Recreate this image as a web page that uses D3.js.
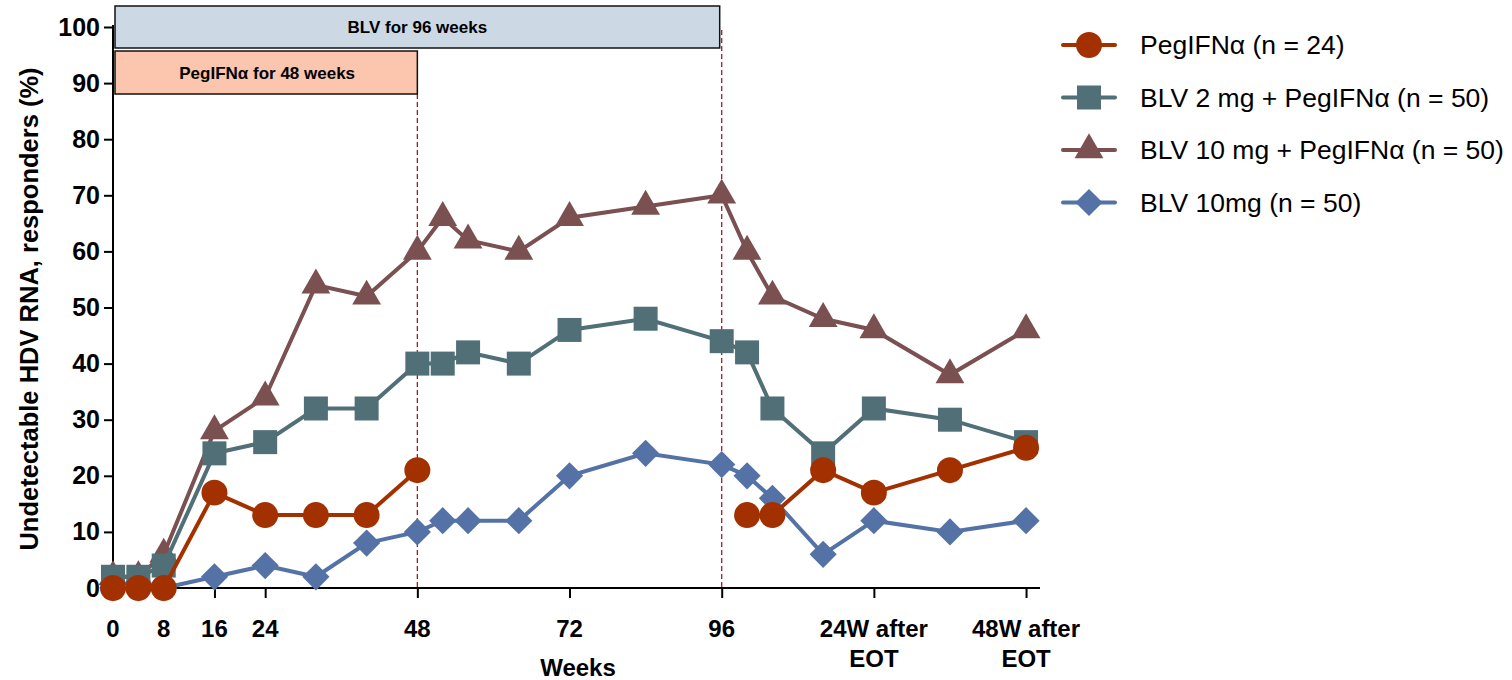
<!DOCTYPE html>
<html>
<head>
<meta charset="utf-8">
<script src="https://cdn.jsdelivr.net/npm/d3@7"></script>
<style>
  body { margin: 0; background: #fff; }
  text { font-family: "Liberation Sans", Arial, sans-serif; }
</style>
</head>
<body>
<div id="chart"></div>
<script>
// data (weeks, % responders)
var weeksA = [0, 4, 8, 16, 24, 32, 40, 48, 52, 56, 64, 72, 84, 96, 100, 104, 112, 120, 132, 144];
var pegWeeks = [0, 4, 8, 16, 24, 32, 40, 48, 100, 104, 112, 120, 132, 144];
var pegVals = [0, 0, 0, 17, 13, 13, 13, 21, 13, 13, 21, 17, 21, 25];
var blv2Vals = [2, 2, 4, 24, 26, 32, 32, 40, 40, 42, 40, 46, 48, 44, 42, 32, 24, 32, 30, 26];
var blv10pVals = [2, 2, 6, 28, 34, 54, 52, 60, 66, 62, 60, 66, 68, 70, 60, 52, 48, 46, 38, 46];
var blv10Vals = [0, 0, 0, 2, 4, 2, 8, 10, 12, 12, 12, 20, 24, 22, 20, 16, 6, 12, 10, 12];

var xTickVals = [0, 8, 16, 24, 48, 72, 96, 120, 144];
var xTickLabels = ["0", "8", "16", "24", "48", "72", "96", "24W after|EOT", "48W after|EOT"];
var yTickVals = [0, 10, 20, 30, 40, 50, 60, 70, 80, 90, 100];

var seriesNames = ["PegIFNα (n = 24)", "BLV 2 mg + PegIFNα (n = 50)", "BLV 10 mg + PegIFNα (n = 50)", "BLV 10mg (n = 50)"];
var seriesColors = ["#a33100", "#516f76", "#7a5050", "#5472a6"];
var seriesShapes = ["circle", "square", "triangle", "diamond"];

var svgWidth = 1512, svgHeight = 680;
var svg = d3.select("#chart").append("svg")
  .attr("width", svgWidth)
  .attr("height", svgHeight);

// plot area
var x = d3.scaleLinear().domain([0, 146.2]).range([113, 1040]);
var y = d3.scaleLinear().domain([0, 100]).range([588, 27]);

function shapePath(shape) {
  switch (shape) {
    case "circle": return d3.symbol(d3.symbolCircle, 530)();
    case "square": return d3.symbol(d3.symbolSquare, 576)();
    case "triangle": return d3.symbol(d3.symbolTriangle, 360)();
    case "diamond": return d3.symbol(d3.symbolSquare, 370)();
  }
}

// dashed end-of-treatment markers
svg.append("line")
  .attr("x1", x(48)).attr("x2", x(48))
  .attr("y1", 94).attr("y2", y(0))
  .attr("stroke", "#b0152a").attr("stroke-width", 1.3)
  .attr("stroke-dasharray", "5,3");
svg.append("line")
  .attr("x1", x(96)).attr("x2", x(96))
  .attr("y1", 30).attr("y2", y(0))
  .attr("stroke", "#b0152a").attr("stroke-width", 1.3)
  .attr("stroke-dasharray", "5,3");

// treatment boxes
svg.append("rect")
  .attr("x", x(0) + 2).attr("y", 6)
  .attr("width", x(96) - x(0) - 4).attr("height", 42)
  .attr("fill", "#cdd8e5").attr("stroke", "#111").attr("stroke-width", 1.5);
svg.append("text")
  .attr("x", (x(0) + x(96)) / 2).attr("y", 33)
  .attr("text-anchor", "middle")
  .attr("font-size", 17).attr("font-weight", "bold")
  .text("BLV for 96 weeks");

svg.append("rect")
  .attr("x", x(0) + 2).attr("y", 51)
  .attr("width", x(48) - x(0) - 2).attr("height", 43)
  .attr("fill", "#fbc5ae").attr("stroke", "#111").attr("stroke-width", 1.5);
svg.append("text")
  .attr("x", (x(0) + x(48)) / 2 + 2).attr("y", 79)
  .attr("text-anchor", "middle")
  .attr("font-size", 17).attr("font-weight", "bold")
  .text("PegIFNα for 48 weeks");

// axes
var yAxis = svg.append("g")
  .attr("transform", `translate(${x(0)}, 0)`)
  .call(d3.axisLeft(y).tickValues(yTickVals).tickSize(9).tickPadding(4));
var xAxis = svg.append("g")
  .attr("transform", `translate(0, ${y(0)})`)
  .call(d3.axisBottom(x).tickValues(xTickVals).tickSize(10).tickFormat(""));

yAxis.select(".domain").attr("stroke-width", 2).attr("d", `M-9,${y(0)}H0V${y(100) - 2}`);
xAxis.select(".domain").attr("stroke-width", 2).attr("d", `M${x(0)},0H${x(146.2)}`);
svg.selectAll(".tick line").attr("stroke-width", 2);
yAxis.selectAll(".tick text")
  .attr("font-size", 25).attr("font-weight", "bold")
  .attr("font-family", "Liberation Sans, Arial, sans-serif")
  .attr("fill", "#000");

// x tick labels, some on two lines
xTickVals.forEach(function(v, i) {
  var parts = xTickLabels[i].split("|");
  var t = svg.append("text")
    .attr("x", x(v)).attr("y", 637)
    .attr("text-anchor", "middle")
    .attr("font-size", 24).attr("font-weight", "bold");
  parts.forEach(function(p, j) {
    t.append("tspan").attr("x", x(v)).attr("dy", j === 0 ? 0 : 30).text(p);
  });
});

// axis titles
svg.append("text")
  .attr("x", 578).attr("y", 676)
  .attr("text-anchor", "middle")
  .attr("font-size", 24).attr("font-weight", "bold")
  .text("Weeks");
svg.append("text")
  .attr("transform", "translate(38, 309) rotate(-90)")
  .attr("text-anchor", "middle")
  .attr("font-size", 25.5).attr("font-weight", "bold")
  .text("Undetectable HDV RNA, responders (%)");

// series, drawn back to front
var seriesData = [
  pegWeeks.map((w, i) => ({w: w, v: pegVals[i]})),
  weeksA.map((w, i) => ({w: w, v: blv2Vals[i]})),
  weeksA.map((w, i) => ({w: w, v: blv10pVals[i]})),
  weeksA.map((w, i) => ({w: w, v: blv10Vals[i]}))
];
var line = d3.line().x(d => x(d.w)).y(d => y(d.v));
var drawOrder = [3, 2, 1, 0];

drawOrder.forEach(function(s) {
  var g = svg.append("g");
  var data = seriesData[s];
  if (s === 0) {
    // PegIFNα is not measured between week 48 and week 100
    g.append("path").datum(data.slice(0, 8)).attr("d", line)
      .attr("fill", "none").attr("stroke", seriesColors[s]).attr("stroke-width", 4);
    g.append("path").datum(data.slice(8)).attr("d", line)
      .attr("fill", "none").attr("stroke", seriesColors[s]).attr("stroke-width", 4);
  } else {
    g.append("path").datum(data).attr("d", line)
      .attr("fill", "none").attr("stroke", seriesColors[s]).attr("stroke-width", 4);
  }
  g.selectAll(".pt").data(data).enter().append("path")
    .attr("d", shapePath(seriesShapes[s]))
    .attr("transform", d => `translate(${x(d.w)}, ${y(d.v)})` + (seriesShapes[s] === "diamond" ? " rotate(45)" : ""))
    .attr("fill", seriesColors[s]);
});

// legend
var legend = svg.append("g").attr("transform", "translate(1063, 45)");
seriesNames.forEach(function(name, i) {
  var row = legend.append("g").attr("transform", `translate(0, ${i * 52.5})`);
  row.append("line").attr("x1", 0).attr("x2", 52).attr("y1", 0).attr("y2", 0)
    .attr("stroke", seriesColors[i]).attr("stroke-width", 4).attr("stroke-linecap", "round");
  row.append("path")
    .attr("d", shapePath(seriesShapes[i]))
    .attr("transform", "translate(26, 0)" + (seriesShapes[i] === "diamond" ? " rotate(45)" : ""))
    .attr("fill", seriesColors[i]);
  row.append("text").attr("x", 77).attr("y", 9)
    .attr("font-size", 26.5)
    .text(name);
});
</script>
</body>
</html>
